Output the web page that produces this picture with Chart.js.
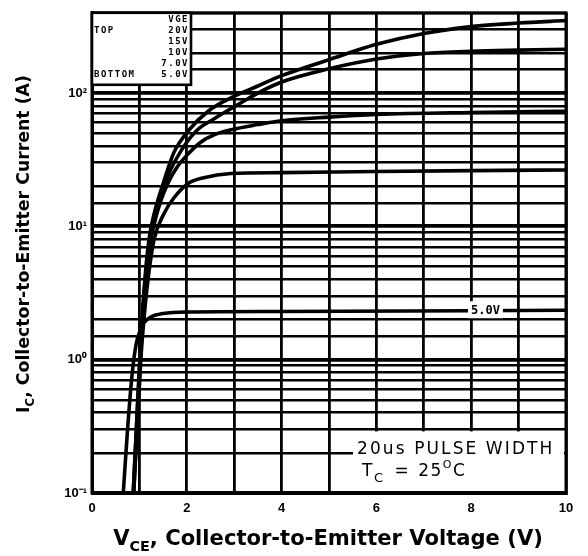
<!DOCTYPE html>
<html>
<head>
<meta charset="utf-8">
<script src="https://cdn.jsdelivr.net/npm/chart.js@4/dist/chart.umd.min.js"></script>
<style>
  html, body { margin: 0; padding: 0; background: #fff; }
  #wrap { width: 588px; height: 556px; }
</style>
</head>
<body>
<div id="wrap"><canvas id="c" width="588" height="556"></canvas></div>
<script>
// Typical output characteristics, Tc = 25 °C, 20 µs pulse
// Collector-emitter voltage (V) and collector current (A) per gate voltage
const vce20 = [0.87, 0.96, 1.01, 1.10, 1.20, 1.30, 1.52, 1.73, 2.03, 2.45, 2.93, 3.50, 4.00, 5.00, 6.00, 7.00, 8.00, 9.00, 10.0];
const ic20  = [0.10, 0.45, 1.00, 3.40, 7.90, 12.0, 22.0, 36.0, 52.0, 73.0, 92.0, 113,  135,  178,  232,  280,  315,  335,  350];

const vce15 = [0.87, 0.96, 1.01, 1.10, 1.20, 1.30, 1.45, 1.60, 1.88, 2.20, 2.57, 3.08, 3.50, 4.00, 5.00, 6.00, 7.00, 8.00, 9.00, 10.0];
const ic15  = [0.10, 0.45, 1.00, 3.20, 7.00, 11.0, 17.0, 24.0, 37.0, 52.0, 64.0, 82.0, 100,  121,  152,  180,  198,  206,  210,  213];

const vce10 = [0.88, 0.97, 1.02, 1.10, 1.20, 1.30, 1.45, 1.60, 1.80, 2.03, 2.30, 2.60, 2.93, 3.50, 4.00, 5.00, 6.00, 8.00, 10.0];
const ic10  = [0.10, 0.45, 1.00, 3.00, 6.50, 10.0, 15.5, 21.0, 28.0, 35.0, 43.0, 49.0, 53.0, 58.0, 62.0, 66.0, 69.0, 71.5, 73.0];

const vce7  = [0.88, 0.97, 1.03, 1.12, 1.20, 1.31, 1.52, 1.73, 2.03, 2.36, 2.93, 4.00, 6.00, 8.00, 10.0];
const ic7   = [0.10, 0.40, 1.00, 2.50, 4.50, 8.00, 12.5, 16.4, 21.0, 23.2, 24.9, 25.3, 25.8, 26.2, 26.5];

const vce5  = [0.66, 0.75, 0.85, 0.93, 1.00, 1.10, 1.25, 1.50, 2.00, 4.00, 10.0];
const ic5   = [0.10, 0.30, 0.80, 1.30, 1.60, 1.90, 2.10, 2.22, 2.28, 2.30, 2.35];

// Legend box contents
const legendHead = 'VGE';
const legendGates = ['20V', '15V', '10V', '7.0V', '5.0V'];
const legendSides = ['TOP', '', '', '', 'BOTTOM'];

// Axis ranges and labelled ticks
const xMin = 0, xMax = 10, xStep = 1;
const yMin = 0.1, yMax = 400;
const yDecadeLabels = { '0.1': '10\u207B\u00B9', '1': '10\u2070', '10': '10\u00B9', '100': '10\u00B2' };

const curveLabel = '5.0V';
const noteLine1 = '20us PULSE WIDTH';

const toPoints = (xs, ys) => xs.map((x, i) => ({ x: x, y: ys[i] }));

const lineStyle = {
  borderColor: '#000',
  borderWidth: 3.6,
  pointRadius: 0,
  fill: false,
  cubicInterpolationMode: 'monotone',
  clip: 2
};

const isDecade = v => Math.abs(Math.log10(v) - Math.round(Math.log10(v))) < 1e-6;

const overlay = {
  id: 'overlay',
  afterDatasetsDraw(chart) {
    const { ctx, chartArea: a, scales } = chart;
    ctx.save();

    // frame
    ctx.strokeStyle = '#000';
    ctx.lineWidth = 3;
    ctx.strokeRect(a.left, a.top, a.right - a.left, a.bottom - a.top);

    // legend box (top-left)
    const bx = a.left, by = a.top, bw = 99, bh = 72;
    ctx.fillStyle = '#fff';
    ctx.fillRect(bx, by, bw, bh);
    ctx.lineWidth = 2.6;
    ctx.strokeRect(bx, by, bw, bh);
    ctx.fillStyle = '#000';
    ctx.font = 'bold 9px "DejaVu Sans Mono"';
    ctx.letterSpacing = '1.5px';
    ctx.textBaseline = 'middle';
    ctx.textAlign = 'right';
    ctx.fillText(legendHead, bx + bw - 2, by + 7);
    legendGates.forEach((g, i) => {
      const yy = by + 18 + i * 11;
      ctx.textAlign = 'right';
      ctx.fillText(g, bx + bw - 2, yy);
      ctx.textAlign = 'left';
      ctx.fillText(legendSides[i], bx + 2, yy);
    });
    ctx.letterSpacing = '0px';

    // "5.0V" curve tag, sitting on its curve
    const tx = scales.x.getPixelForValue(8.3);
    const ty = scales.y.getPixelForValue(ic5[ic5.length - 1]);
    ctx.font = 'bold 12px "DejaVu Sans Mono"';
    const tw = ctx.measureText(curveLabel).width;
    ctx.fillStyle = '#fff';
    ctx.fillRect(tx - tw / 2 - 3, ty - 9, tw + 6, 17);
    ctx.fillStyle = '#000';
    ctx.textAlign = 'center';
    ctx.textBaseline = 'middle';
    ctx.fillText(curveLabel, tx, ty + 1);

    // test-condition note (bottom-right)
    const nyTop = scales.y.getPixelForValue(0.3) + 2;
    const nx = 353;
    ctx.fillStyle = '#fff';
    ctx.fillRect(nx, nyTop, a.right - nx - 2, a.bottom - nyTop - 2);
    ctx.fillStyle = '#000';
    ctx.textAlign = 'left';
    ctx.textBaseline = 'alphabetic';
    const noteFont = '500 17px "DejaVu Sans"';
    ctx.font = noteFont;
    ctx.letterSpacing = '2.1px';
    ctx.fillText(noteLine1, 357, 454);
    // T with subscript C
    ctx.letterSpacing = '1.5px';
    ctx.fillText('T', 362, 476);
    let cx = 362 + ctx.measureText('T').width;
    ctx.font = '13px "DejaVu Sans"';
    ctx.fillText('C', cx, 482);
    cx += ctx.measureText('C').width + 10;
    ctx.font = noteFont;
    ctx.fillText('=', cx, 476);
    cx += ctx.measureText('=').width + 8;
    ctx.fillText('25', cx, 476);
    cx += ctx.measureText('25').width;
    ctx.font = '11px "DejaVu Sans"';
    ctx.fillText('O', cx, 468);
    cx += ctx.measureText('O').width;
    ctx.font = noteFont;
    ctx.fillText('C', cx, 476);
    ctx.letterSpacing = '0px';

    // axis titles with subscripts, sized to span their target length
    const titleFamily = '"DejaVu Sans"';
    const drawTitle = (parts, span) => {
      const measure = (size) => {
        let w = 0;
        parts.forEach(p => {
          ctx.font = 'bold ' + (p.sub ? size * 0.68 : size) + 'px ' + titleFamily;
          w += ctx.measureText(p.t).width;
        });
        return w;
      };
      const size = 18 * span / measure(18);
      const total = measure(size);
      let x = -total / 2;
      parts.forEach(p => {
        ctx.font = 'bold ' + (p.sub ? size * 0.68 : size) + 'px ' + titleFamily;
        ctx.fillText(p.t, x, p.sub ? size * 0.28 : 0);
        x += ctx.measureText(p.t).width;
      });
    };
    ctx.fillStyle = '#000';
    ctx.textAlign = 'left';
    ctx.textBaseline = 'alphabetic';

    ctx.save();
    ctx.translate((a.left + a.right) / 2 - 1, 545);
    drawTitle([{ t: 'V' }, { t: 'CE', sub: true }, { t: ', Collector-to-Emitter Voltage (V)' }], 430);
    ctx.restore();

    ctx.save();
    ctx.translate(29, 244);
    ctx.rotate(-Math.PI / 2);
    drawTitle([{ t: 'I' }, { t: 'C', sub: true }, { t: ', Collector-to-Emitter Current (A)' }], 338);
    ctx.restore();

    ctx.restore();
  }
};

new Chart(document.getElementById('c'), {
  type: 'line',
  data: {
    datasets: [
      Object.assign({ label: '20V', data: toPoints(vce20, ic20) }, lineStyle),
      Object.assign({ label: '15V', data: toPoints(vce15, ic15) }, lineStyle),
      Object.assign({ label: '10V', data: toPoints(vce10, ic10) }, lineStyle),
      Object.assign({ label: '7.0V', data: toPoints(vce7, ic7) }, lineStyle),
      Object.assign({ label: '5.0V', data: toPoints(vce5, ic5) }, lineStyle)
    ]
  },
  options: {
    responsive: false,
    animation: false,
    devicePixelRatio: 1,
    layout: { padding: { top: 10, right: 22, left: 0, bottom: 0 } },
    plugins: { legend: { display: false }, tooltip: { enabled: false }, title: { display: false } },
    scales: {
      x: {
        type: 'linear',
        min: xMin, max: xMax,
        afterFit(s) { s.height = 63; },
        border: { display: true, color: '#000', width: 3 },
        grid: { color: '#000', lineWidth: 2.8, drawTicks: false },
        ticks: {
          stepSize: xStep,
          padding: 8,
          color: '#000',
          font: { family: '"Liberation Sans"', size: 13, weight: 'bold' },
          callback: v => (v % 2 === 0 ? String(v) : '')
        }
      },
      y: {
        type: 'logarithmic',
        min: yMin, max: yMax,
        afterFit(s) { s.width = 92; },
        border: { display: true, color: '#000', width: 3 },
        grid: {
          color: '#000',
          drawTicks: false,
          lineWidth: c => (c.tick && isDecade(c.tick.value) ? 3.8 : 2.6)
        },
        ticks: {
          autoSkip: false,
          padding: 5,
          color: '#000',
          font: { family: '"Liberation Sans"', size: 13, weight: 'bold' },
          callback: v => {
            const k = String(Math.round(v * 1000) / 1000);
            return yDecadeLabels[k] || '';
          }
        }
      }
    }
  },
  plugins: [overlay]
});
</script>
</body>
</html>
